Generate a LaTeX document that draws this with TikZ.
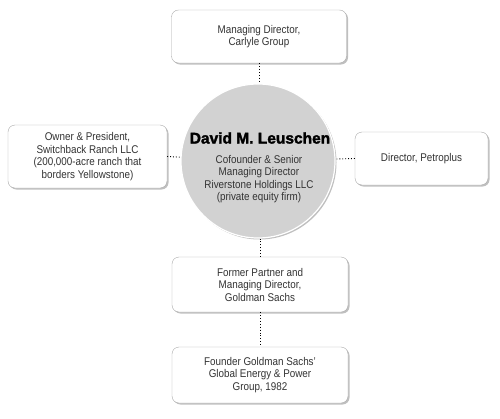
\documentclass[tikz,border=0pt]{standalone}
\usepackage{fontspec}
\setmainfont{Liberation Sans}[FakeStretch=0.88]
\newfontfamily\namefont{Liberation Sans}[FakeBold=2]
\usetikzlibrary{shadows}
\definecolor{boxline}{HTML}{A8A8A8}
\definecolor{boxtext}{HTML}{333333}
\definecolor{leadfill}{HTML}{D2D2D2}
\begin{document}
\begin{tikzpicture}[
  x=1pt, y=-1pt,
  box/.style={rectangle, draw=boxline, fill=white, rounded corners=7pt,
              font=\fontsize{11.2}{12.5}\selectfont, text=boxtext, align=center,
              drop shadow={shadow xshift=1.5pt, shadow yshift=-1.5pt,
                           fill=black!50}},
  lead/.style={circle, draw=white, line width=1.2pt, fill=leadfill,
               minimum size=154pt, inner sep=0pt,
               drop shadow={shadow xshift=1.5pt, shadow yshift=-1.5pt,
                            fill=black!50}},
  link/.style={dotted, line width=0.9pt, black}
]
  \useasboundingbox (0,0) rectangle (500,418);

  \node[box, minimum width=175pt, minimum height=53pt] (carlyle) at (259, 36.5)
    {Managing Director,\\Carlyle Group};
  \node[lead] (leuschen) at (258, 161) {};
  \node[font=\namefont\bfseries\fontsize{15.5}{17}\selectfont] (name)
    at (260, 138) {David M. Leuschen};
  \node[align=center, text=boxtext, font=\fontsize{11.2}{12.5}\selectfont]
    (role) at (259, 179)
    {Cofounder \& Senior\\Managing Director\\Riverstone Holdings LLC\\(private equity firm)};
  \node[box, minimum width=159pt, minimum height=63pt] (switchback) at (87.5, 156.5)
    {Owner \& President,\\Switchback Ranch LLC\\(200,000-acre ranch that\\borders Yellowstone)};
  \node[box, minimum width=133pt, minimum height=53pt] (petroplus) at (421.5, 158.5)
    {Director, Petroplus};
  \node[box, minimum width=176pt, minimum height=55pt] (goldman) at (260, 284.5)
    {Former Partner and\\Managing Director,\\Goldman Sachs};
  \node[box, minimum width=176pt, minimum height=56pt] (energy) at (260, 375)
    {Founder Goldman Sachs'\\Global Energy \& Power\\Group, 1982};

  \draw[link] (carlyle.south) -- (carlyle.south |- leuschen.north);
  \draw[link] (switchback.east) -- (leuschen);
  \draw[link] (petroplus.west) -- (leuschen);
  \draw[link] (goldman.north) -- (goldman.north |- leuschen.south);
  \draw[link] (goldman.south) -- (energy.north);
\end{tikzpicture}
\end{document}
